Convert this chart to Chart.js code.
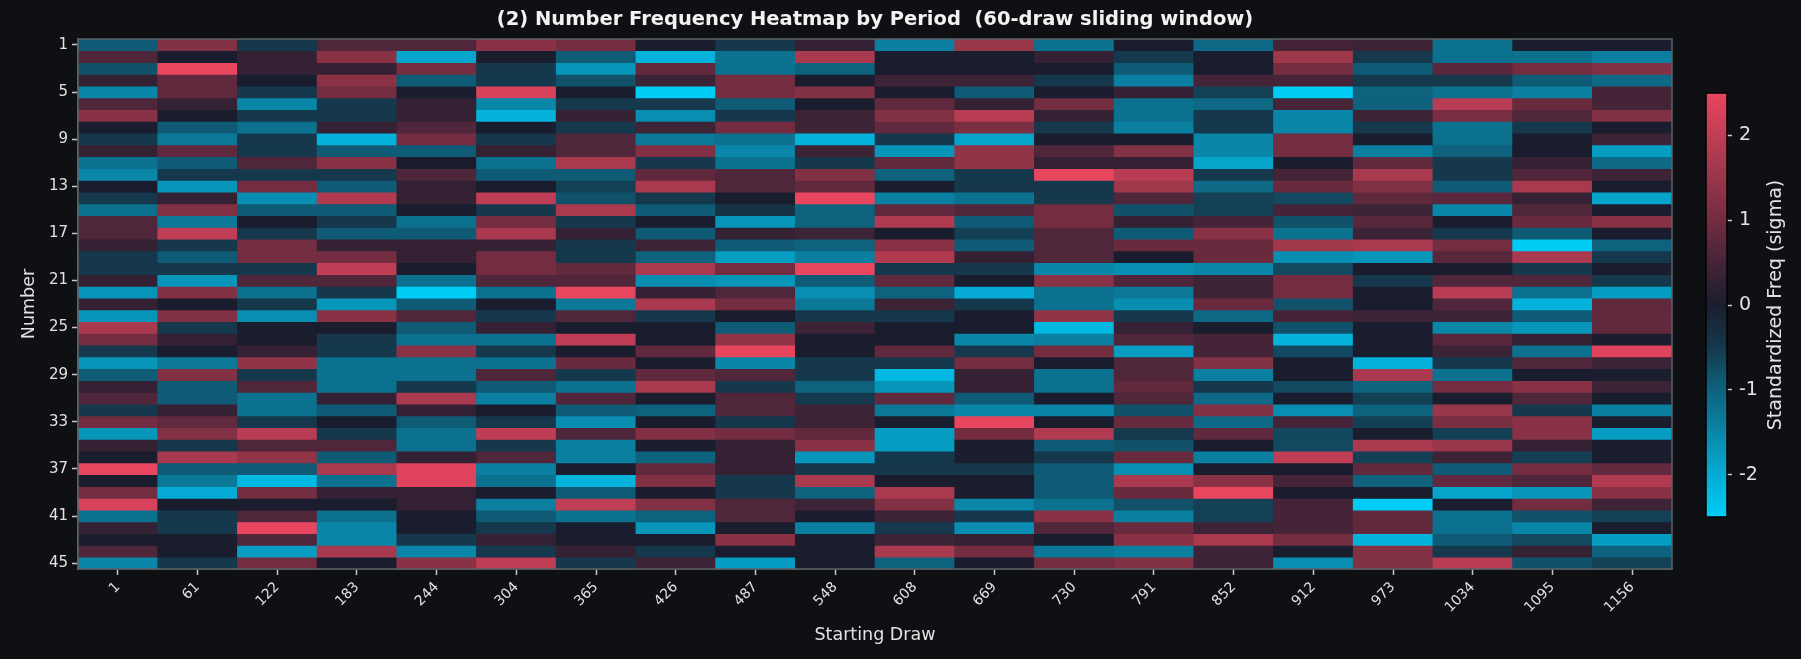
<!DOCTYPE html>
<html>
<head>
<meta charset="utf-8">
<title>Number Frequency Heatmap by Period</title>
<script src="https://cdn.jsdelivr.net/npm/chart.js@4.4.1/dist/chart.umd.min.js"></script>
<style>
  html, body { margin: 0; padding: 0; background: #0f1014; }
  #wrap { position: relative; width: 1801px; height: 659px; }
  #main { position: absolute; left: 0; top: 0; width: 1801px; height: 659px; }
  #cbar { position: absolute; left: 1700px; top: 80px; width: 101px; height: 450px; }
</style>
</head>
<body>
<div id="wrap">
  <div id="main"><canvas id="heat"></canvas></div>
  <div id="cbar"><canvas id="bar"></canvas></div>
</div>
<script>
// starting draw of each 60-draw window (x categories)
const startDraws = ['1', '61', '122', '183', '244', '304', '365', '426', '487', '548',
  '608', '669', '730', '791', '852', '912', '973', '1034', '1095', '1156'];

// lottery numbers (rows)
const numbers = [1, 2, 3, 4, 5, 6, 7, 8, 9, 10, 11, 12, 13, 14, 15, 16, 17, 18, 19, 20, 21, 22, 23,
  24, 25, 26, 27, 28, 29, 30, 31, 32, 33, 34, 35, 36, 37, 38, 39, 40, 41, 42, 43, 44, 45];
const numberTicks = [1, 5, 9, 13, 17, 21, 25, 29, 33, 37, 41, 45];
const sigmaTicks = [-2, -1, 0, 1, 2];

// standardized frequency (sigma) per window, numbers 1..45 top to bottom
const win1 = [-0.9, 0.6, -0.8, 0.3, -1.5, 0.6, 1.3, 0, -0.5, 0.3, -1.2, -1.5, 0, -0.5, -1.2, 0.6, 0.6, 0.3, -0.5, -0.5, 0.3, -1.7, 0.3,
  -1.7, 1.7, 1.0, -0.5, -1.7, -0.9, 0.3, 0.6, -0.5, 1.0, -1.7, 0.3, 0, 2.5, 0, 1.0, 2.3, -1.2, 0.3, 0, 0.6, -1.5];
const win61 = [1.2, 0, 2.5, 0.8, 0.8, 0.3, 0, -0.9, -1.3, 0.8, -0.9, -0.5, -1.7, 0.3, 1.2, -1.3, 2.0, -0.5, -0.9, -0.5, -1.7, 1.2, 0,
  1.2, -0.5, 0.3, 0, -1.3, 1.2, -0.9, -0.9, 0.3, 0.8, 1.2, -0.5, 1.7, -0.9, -1.3, -2.0, 0, -0.5, -0.5, 0, 0, -0.5];
const win122 = [-0.5, 0.3, 0.3, 0, -0.5, -1.5, -0.5, -1.2, -0.5, -0.5, 0.6, -0.5, 1.0, -1.6, -0.9, 0, -0.5, 1.0, 1.0, -0.5, 0.6, -1.2, -0.5,
  -1.6, 0, 0, 0.3, 1.4, -0.5, 0.6, -1.2, -1.2, -0.5, 1.9, 0.6, 1.4, -0.9, -2.2, 1.0, 0, 0.6, 2.5, 0.6, -1.8, 1.0];
const win183 = [0.6, 1.3, 0.3, 1.3, 1.0, -0.5, -0.5, 0.3, -2.1, -0.9, 1.3, -0.5, -0.9, 1.8, -0.9, -0.5, -0.9, 0.3, 1.0, 2.0, 0.6, -0.5, -1.7,
  1.3, 0, -0.5, -0.5, -1.2, -1.2, -1.2, 0.3, -0.9, 0, -0.5, 0.6, -0.9, 1.7, -1.2, 0.3, 0, -1.2, -1.5, -1.5, 1.7, 0];
const win244 = [0.6, -1.9, 1.0, -0.9, 0, 0.3, 0.3, 0.6, 1.0, -0.9, 0, 0.6, 0.3, 0.3, 0, -1.2, -0.9, 0.3, 0.3, 0, -1.2, -2.5, -0.9,
  0.6, -0.9, -1.2, 1.3, -1.2, -1.2, -0.5, 1.7, 0.3, -0.9, -1.2, -1.2, 0.3, 2.4, 2.4, 0.3, 0.3, 0, 0, -0.5, -1.5, 1.3];
const win304 = [1.3, 0, -0.5, -0.5, 2.3, -1.5, -2.1, 0, -0.5, 0.3, -1.2, -0.9, 0, 2.0, -0.5, 1.0, 1.7, 0.3, 1.0, 1.0, 0.6, -1.2, 0,
  -0.5, 0.3, -1.2, -0.5, -1.2, 0.6, -0.9, -1.4, 0, -0.5, 2.0, -0.5, 0.6, -1.4, -1.2, 0, -1.4, -0.9, -0.5, 0.3, -0.5, 2.0];
const win365 = [1.0, -0.9, -1.7, -0.8, 0, -0.5, 0.3, -0.5, 0.6, 0.6, 1.7, -0.9, -0.6, -0.8, 1.7, -0.5, 0.3, -0.5, -0.5, 0.8, 0.6, 2.5, -1.3,
  0.6, 0, 2.0, 0, 0.9, -0.5, -1.2, 0.6, -0.9, -1.6, 0.6, -1.4, -1.4, 0, -2.1, -0.9, 2.0, -1.2, 0, 0, 0.3, -0.5];
const win426 = [0, -2.1, 0.8, 0.4, -2.5, -0.5, -1.6, 0.4, -1.3, 1.2, -0.5, 0.8, 1.7, -0.5, -0.9, 0, -0.9, 0.4, -1.0, 1.7, -1.6, 0.3, 1.7,
  -0.5, 0, 0, 0.8, 0, 0.8, 1.7, 0, -1.0, 0, 1.2, 0, -1.0, 0.8, 1.2, 0, 1.2, -1.0, -1.7, 0, -0.5, 0.4];
const win487 = [-0.5, -1.2, -1.2, 1.0, 1.0, -0.9, -0.5, 1.0, -1.2, -1.5, -1.2, 0.6, 0.6, 0, -0.4, -1.7, 0.3, -0.9, -1.8, 1.0, -1.7, 0.6, 1.0,
  0, -0.9, 1.4, 2.5, -1.5, 0.6, -0.5, 0.6, 0.6, -0.5, 1.0, 0.3, 0.3, 0.3, -0.5, -0.5, 0.6, 0.6, 0, 1.3, 0, -1.8];
const win548 = [0.3, 1.7, -1.0, 0, 1.2, 0, 0.4, 0.4, -2.1, 0.4, -0.5, 1.2, 0.8, 2.5, -1.0, -1.0, 0.4, -1.0, -1.4, 2.5, -0.9, -1.6, -1.3,
  -0.5, 0.4, 0, 0, -0.5, -0.5, -1.0, -0.5, 0.4, 0.4, 0.8, 1.3, -1.7, -0.5, 1.7, -1.0, 0.4, 0, -1.4, 0, 0, 0];
const win608 = [-1.4, 0, 0, 0.4, 0, 0.8, 1.2, 0.8, -0.5, -1.7, 0.8, -1.0, 0, -1.4, 0.8, 1.8, 0, 1.3, 1.8, -0.5, 0.8, -1.0, 0.4,
  -0.5, 0, 0, 0.8, -0.5, -2.2, -1.7, 0.8, -1.3, 0, -1.8, -1.8, -0.5, -0.5, 0, 1.7, 1.2, 0.4, -0.5, 0.4, 1.7, -1.0];
const win669 = [1.5, 0, 0, 0.4, -0.9, 0.3, 1.9, 1.1, -1.9, 1.4, 1.4, -0.5, -0.5, -1.2, 0.6, -0.9, -0.6, -0.9, 0.3, -0.5, 0, -2.0, -0.5,
  0, 0, -1.5, -0.5, 1.0, 0.3, 0.3, -0.9, -1.5, 2.5, 1.0, 0, 0, -0.5, 0, 0, -1.5, -0.5, -1.6, 0.3, 1.0, 0];
const win730 = [-1.2, 0.3, 0, -0.5, 0, 1.0, 0.3, -0.5, 0, 0.6, 0.3, 2.5, -0.5, -0.5, 1.0, 1.0, 0.6, 0.6, 0.6, -1.5, 1.3, -1.2, -1.2,
  1.4, -2.2, -1.4, 1.0, 0, -1.2, -1.2, 0, -1.5, 0, 1.8, -0.9, -0.5, -0.9, -0.9, -0.9, -1.2, 1.3, 0.6, 0, -1.3, 1.0];
const win791 = [0, -0.5, -0.9, -1.4, 0.3, -1.2, -1.2, -1.4, 0, 1.2, 0.3, 1.9, 1.6, 0.6, -0.8, 0.3, -0.9, 0.9, 0, -1.6, 0.6, -1.3, -1.6,
  -0.5, 0.3, 0.6, -1.8, 0.6, 0.6, 0.8, 0.6, -0.8, 0.9, -0.5, -0.8, 0.9, -1.6, 1.7, 0.9, -0.8, -1.4, 0.9, 1.3, -1.4, 1.2];
const win852 = [-1.1, 0, 0, 0.5, -0.6, -1.1, -0.5, -0.5, -1.5, -1.5, -1.9, -0.5, -1.1, -0.6, -0.6, 0.5, 1.3, 0.9, 0.9, -1.5, 0.4, 0.4, 0.9,
  -1.1, 0, 0.5, 0.5, 1.2, -1.4, -0.5, -1.1, 1.2, -1.1, 0.8, 0, -1.4, 0, 1.3, 2.5, -0.6, -0.6, 0.4, 1.7, 0.4, 0.4];
const win912 = [0.5, 1.6, 1.0, 0.5, -2.5, 0.5, -1.5, -1.5, 1.0, 1.0, 0, 0.5, 0.9, -0.7, 0.5, -0.8, -1.2, 1.6, -1.6, -0.7, 1.0, 1.0, -0.8,
  0.5, -0.8, -2.1, -0.7, 0, 0, -0.7, 0, -1.6, 0.5, -0.7, -0.7, 2.0, 0, 0.5, 0, 0.5, 0.5, 0.5, 1.0, 0, -1.6];
const win973 = [0.4, -0.5, -0.9, -0.5, -1.0, -1.0, 0.4, -0.5, 0, -1.4, 0.8, 1.7, 1.2, 0.8, 0.4, 0.7, 0.4, 1.7, -1.7, 0, -0.5, 0, 0,
  0.4, 0, 0, 0, -2.1, 1.7, -1.0, -0.6, -1.0, -0.6, 0, 1.7, -0.6, 0.8, -1.0, 0, -2.5, 0.8, 0.8, -2.1, 1.2, 1.2];
const win1034 = [-1.2, -1.2, 0.7, -0.5, -1.2, 1.9, 1.1, -1.2, -1.2, -1.0, -0.5, -0.5, -0.9, 0.7, -1.5, 0, -0.5, 1.0, 0.7, 0, 0.6, 1.9, 0.6,
  0.4, -1.5, 0.7, 0.4, -0.5, -1.2, 1.0, 0, 1.5, 1.1, -0.6, 1.5, 0.4, -0.9, 0.8, -1.9, 0, -1.2, -1.2, -0.9, -0.5, 1.9];
const win1095 = [0, -1.2, 1.0, -0.9, -1.4, 0.9, 0.6, -0.5, 0, 0, 0.3, 0.6, 1.7, 0.3, 0.6, 0.9, -0.9, -2.5, 1.7, -0.5, 0.6, -1.2, -2.1,
  -0.9, -1.7, 0.3, -1.2, 0.6, 0, 1.3, 0.6, -0.5, 1.3, 1.3, 0.3, -0.6, 1.0, 0.6, -1.7, 1.0, -0.8, -1.5, -0.7, 0.3, -0.8];
const win1156 = [0, -1.4, 1.2, -1.1, 0.5, 0.5, 1.2, 0, 0.4, -1.8, -1.1, 0.4, 0, -1.9, 0, 1.3, 0, -1.0, -0.5, 0, -0.5, -1.8, 0.8,
  0.8, 0.8, 0, 2.4, 0.4, 0, 0.4, 0, -1.4, 0, -1.8, 0, 0, 0.8, 1.8, 1.3, 0.4, -0.6, 0, -1.8, -1.0, -0.6];

const windows = [win1, win61, win122, win183, win244, win304, win365, win426, win487, win548,
  win608, win669, win730, win791, win852, win912, win973, win1034, win1095, win1156];

// colormap: cyan -> dark -> red, vmin -2.5 .. vmax 2.5
const VMIN = -2.5, VMAX = 2.5;
const cmapStops = [
  [0, 205, 245], [5, 171, 212], [10, 134, 168], [14, 98, 126], [21, 56, 76],
  [26, 29, 46],
  [70, 36, 56], [115, 44, 64], [152, 54, 74], [192, 62, 85], [232, 70, 95]
];
function colorFor(v) {
  let t = (Math.min(VMAX, Math.max(VMIN, v)) - VMIN) / (VMAX - VMIN) * (cmapStops.length - 1);
  const i = Math.min(cmapStops.length - 2, Math.floor(t));
  const f = t - i;
  const a = cmapStops[i], b = cmapStops[i + 1];
  const c = a.map((x, k) => Math.round(x + (b[k] - x) * f));
  return `rgb(${c[0]},${c[1]},${c[2]})`;
}

const textColor = '#e2e2e2';
const spineColor = '#5d6167';
Chart.defaults.font.family = 'DejaVu Sans';
Chart.defaults.color = textColor;

// box round the plot area (like matplotlib spines) and the title centred over the axes
const frame = {
  id: 'frame',
  afterDraw(chart, args, opts) {
    const { ctx, chartArea: a } = chart;
    ctx.save();
    ctx.strokeStyle = opts.color;
    ctx.lineWidth = opts.width;
    ctx.strokeRect(a.left, a.top, a.right - a.left, a.bottom - a.top);
    ctx.fillStyle = '#f2f2f2';
    ctx.font = 'bold 19.5px "DejaVu Sans"';
    ctx.textAlign = 'center';
    ctx.textBaseline = 'middle';
    ctx.fillText(opts.title, (a.left + a.right) / 2, 20);
    ctx.restore();
  }
};

const datasets = numbers.map((n, r) => ({
  label: 'Number ' + n,
  data: startDraws.map(() => [n - 0.5, n + 0.5]),
  backgroundColor: windows.map(w => colorFor(w[r])),
  borderWidth: 0,
  barPercentage: 1,
  categoryPercentage: 1,
  grouped: false
}));

new Chart(document.getElementById('heat'), {
  type: 'bar',
  data: { labels: startDraws, datasets: datasets },
  plugins: [frame],
  options: {
    responsive: true,
    maintainAspectRatio: false,
    animation: false,
    events: [],
    layout: { padding: { left: 0, right: 129, top: 39, bottom: 0 } },
    plugins: {
      legend: { display: false },
      tooltip: { enabled: false },
      title: { display: false },
      frame: {
        color: spineColor, width: 1.5,
        title: '(2) Number Frequency Heatmap by Period  (60-draw sliding window)'
      }
    },
    scales: {
      x: {
        type: 'category',
        offset: true,
        grid: { display: true, drawOnChartArea: false, offset: false, tickLength: 6, tickColor: '#c8c8c8', tickWidth: 1.5 },
        border: { display: true, color: spineColor, width: 1.5 },
        ticks: { autoSkip: false, maxRotation: 45, minRotation: 45, color: textColor, font: { size: 14 }, padding: 4 },
        title: { display: true, text: 'Starting Draw', color: textColor, font: { size: 17.5 }, padding: { top: 0, bottom: 13 } },
        afterFit(axis) { axis.height = 90; }
      },
      y: {
        type: 'linear',
        reverse: true,
        min: 0.5,
        max: 45.5,
        grid: { display: true, drawOnChartArea: false, tickLength: 6, tickColor: '#c8c8c8', tickWidth: 1.5 },
        border: { display: true, color: spineColor, width: 1.5 },
        ticks: { color: textColor, font: { size: 15 }, padding: 4 },
        afterBuildTicks(axis) { axis.ticks = numberTicks.map(v => ({ value: v })); },
        title: { display: true, text: 'Number', color: textColor, font: { size: 17.5 }, padding: { top: 19, bottom: 0 } },
        afterFit(axis) { axis.width = 78; }
      }
    }
  }
});

// colorbar: outline plus label read bottom-to-top
const outline = {
  id: 'outline',
  afterDraw(chart, args, opts) {
    const { ctx, chartArea: a } = chart;
    ctx.save();
    ctx.strokeStyle = '#000000';
    ctx.lineWidth = 1.5;
    ctx.strokeRect(a.left, a.top, a.right - a.left, a.bottom - a.top);
    ctx.translate(76, (a.top + a.bottom) / 2);
    ctx.rotate(-Math.PI / 2);
    ctx.fillStyle = textColor;
    ctx.font = '19px "DejaVu Sans"';
    ctx.textAlign = 'center';
    ctx.textBaseline = 'middle';
    ctx.fillText(opts.label, 0, 0);
    ctx.restore();
  }
};

new Chart(document.getElementById('bar'), {
  type: 'bar',
  data: {
    labels: ['sigma'],
    datasets: [{
      data: [[VMIN, VMAX]],
      borderWidth: 0,
      barPercentage: 1,
      categoryPercentage: 1,
      backgroundColor(c) {
        const chart = c.chart;
        if (!chart.chartArea) return null;
        const y = chart.scales.y;
        const g = chart.ctx.createLinearGradient(0, y.getPixelForValue(VMIN), 0, y.getPixelForValue(VMAX));
        cmapStops.forEach((s, i) => g.addColorStop(i / (cmapStops.length - 1), `rgb(${s[0]},${s[1]},${s[2]})`));
        return g;
      }
    }]
  },
  plugins: [outline],
  options: {
    responsive: true,
    maintainAspectRatio: false,
    animation: false,
    events: [],
    layout: { padding: { left: 6, right: 0, top: 13, bottom: 13 } },
    plugins: {
      legend: { display: false },
      tooltip: { enabled: false },
      outline: { label: 'Standardized Freq (sigma)' }
    },
    scales: {
      x: { display: false },
      y: {
        position: 'right',
        min: VMIN,
        max: VMAX,
        grid: { display: true, drawOnChartArea: false, tickLength: 5, tickColor: '#c8c8c8', tickWidth: 1.5 },
        border: { display: false },
        ticks: { color: textColor, font: { size: 19 }, padding: 7 },
        afterBuildTicks(axis) { axis.ticks = sigmaTicks.map(v => ({ value: v })); },
        title: { display: false },
        afterFit(axis) {
          axis.width = 74;
          axis.paddingTop = 0;
          axis.paddingBottom = 0;
        }
      }
    }
  }
});
</script>
</body>
</html>
